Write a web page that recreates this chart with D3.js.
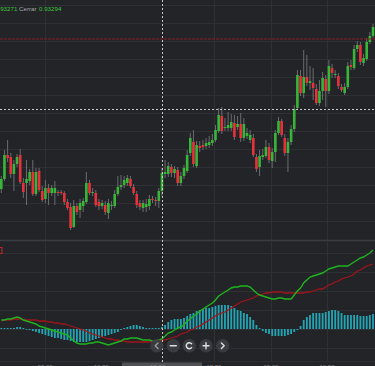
<!DOCTYPE html>
<html><head><meta charset="utf-8">
<script src="https://cdn.jsdelivr.net/npm/d3@7/dist/d3.min.js"></script>
<style>html,body{margin:0;padding:0;background:#232428;overflow:hidden}svg{display:block}</style>
</head><body>
<svg id="c" width="375" height="366"></svg>
<script>
// ---- DATA ----
const open=[0.93278,0.93288,0.93312,0.93310,0.93293,0.93303,0.93312,0.93284,0.93284,0.93286,
0.93295,0.93273,0.93296,0.93276,0.93268,0.93279,0.93274,0.93274,0.93275,0.93275,
0.93274,0.93265,0.93260,0.93240,0.93261,0.93257,0.93261,0.93265,0.93284,0.93274,
0.93274,0.93265,0.93261,0.93262,0.93254,0.93261,0.93261,0.93273,0.93280,0.93282,
0.93284,0.93288,0.93280,0.93273,0.93264,0.93259,0.93260,0.93261,0.93268,0.93267,
0.93266,0.93276,0.93293,0.93293,0.93300,0.93294,0.93297,0.93284,0.93291,0.93296,
0.93314,0.93325,0.93301,0.93321,0.93322,0.93321,0.93322,0.93324,0.93327,0.93336,
0.93351,0.93339,0.93339,0.93339,0.93344,0.93340,0.93343,0.93329,0.93331,0.93327,
0.93329,0.93310,0.93300,0.93310,0.93311,0.93320,0.93306,0.93315,0.93334,0.93346,
0.93329,0.93314,0.93325,0.93338,0.93359,0.93391,0.93374,0.93390,0.93384,0.93384,
0.93378,0.93364,0.93376,0.93388,0.93376,0.93399,0.93392,0.93391,0.93380,0.93374,
0.93380,0.93402,0.93399,0.93418,0.93422,0.93404,0.93408,0.93425,0.93431];
const high=[0.93291,0.93317,0.93327,0.93314,0.93307,0.93313,0.93318,0.93289,0.93307,0.93298,
0.93307,0.93299,0.93299,0.93281,0.93287,0.93283,0.93282,0.93286,0.93277,0.93277,
0.93276,0.93268,0.93264,0.93267,0.93264,0.93268,0.93269,0.93295,0.93287,0.93279,
0.93277,0.93268,0.93267,0.93266,0.93268,0.93266,0.93277,0.93291,0.93292,0.93291,
0.93292,0.93291,0.93283,0.93276,0.93267,0.93267,0.93268,0.93272,0.93271,0.93270,
0.93279,0.93299,0.93307,0.93305,0.93303,0.93301,0.93300,0.93295,0.93302,0.93317,
0.93334,0.93337,0.93326,0.93326,0.93327,0.93329,0.93331,0.93333,0.93342,0.93359,
0.93360,0.93349,0.93355,0.93353,0.93352,0.93351,0.93354,0.93349,0.93339,0.93337,
0.93333,0.93313,0.93317,0.93318,0.93327,0.93324,0.93319,0.93337,0.93350,0.93348,
0.93333,0.93329,0.93342,0.93362,0.93397,0.93397,0.93417,0.93412,0.93401,0.93399,
0.93383,0.93387,0.93395,0.93392,0.93407,0.93403,0.93397,0.93394,0.93383,0.93384,
0.93405,0.93407,0.93422,0.93426,0.93425,0.93413,0.93429,0.93435,0.93443];
const low=[0.93274,0.93286,0.93305,0.93289,0.93276,0.93300,0.93283,0.93269,0.93262,0.93282,
0.93271,0.93271,0.93275,0.93265,0.93264,0.93262,0.93271,0.93262,0.93271,0.93272,
0.93262,0.93257,0.93237,0.93239,0.93252,0.93249,0.93255,0.93263,0.93272,0.93271,
0.93260,0.93257,0.93258,0.93252,0.93248,0.93257,0.93259,0.93271,0.93277,0.93279,
0.93281,0.93279,0.93272,0.93259,0.93257,0.93255,0.93255,0.93257,0.93264,0.93261,
0.93259,0.93271,0.93289,0.93290,0.93290,0.93289,0.93281,0.93281,0.93288,0.93294,
0.93311,0.93300,0.93299,0.93315,0.93317,0.93318,0.93319,0.93321,0.93325,0.93334,
0.93333,0.93336,0.93336,0.93336,0.93327,0.93337,0.93325,0.93326,0.93328,0.93324,
0.93310,0.93295,0.93291,0.93307,0.93309,0.93304,0.93299,0.93305,0.93332,0.93330,
0.93311,0.93295,0.93322,0.93335,0.93357,0.93371,0.93369,0.93381,0.93377,0.93367,
0.93362,0.93361,0.93367,0.93360,0.93373,0.93389,0.93389,0.93378,0.93375,0.93372,
0.93378,0.93397,0.93397,0.93415,0.93402,0.93401,0.93406,0.93423,0.93429];
const close=[0.93288,0.93312,0.93309,0.93293,0.93303,0.93310,0.93285,0.93275,0.93288,0.93295,
0.93273,0.93295,0.93277,0.93267,0.93279,0.93274,0.93279,0.93279,0.93274,0.93274,
0.93265,0.93259,0.93239,0.93261,0.93255,0.93264,0.93266,0.93284,0.93274,0.93275,
0.93262,0.93261,0.93264,0.93255,0.93264,0.93262,0.93273,0.93280,0.93282,0.93287,
0.93289,0.93281,0.93274,0.93262,0.93260,0.93264,0.93263,0.93268,0.93267,0.93266,
0.93276,0.93294,0.93295,0.93301,0.93294,0.93298,0.93284,0.93291,0.93299,0.93312,
0.93329,0.93303,0.93322,0.93319,0.93320,0.93324,0.93325,0.93327,0.93337,0.93352,
0.93336,0.93340,0.93342,0.93345,0.93330,0.93343,0.93329,0.93343,0.93334,0.93332,
0.93312,0.93298,0.93311,0.93312,0.93320,0.93307,0.93315,0.93334,0.93346,0.93332,
0.93314,0.93325,0.93338,0.93358,0.93392,0.93374,0.93390,0.93384,0.93386,0.93379,
0.93364,0.93376,0.93389,0.93376,0.93401,0.93394,0.93393,0.93381,0.93377,0.93380,
0.93401,0.93400,0.93418,0.93422,0.93405,0.93409,0.93425,0.93431,0.93440];
// MACD pane, in points (1 point = 0.00001)
const macd=[9,9,10,10,11,12,11,9,8,7, 6,5,3,2,1,0,-1,-2,-3,-4,
-5,-6,-9,-12,-14,-15,-15,-15,-14,-14, -13,-13,-14,-15,-16,-15,-14,-13,-12,-10,
-10,-9,-9,-9,-10,-11,-11,-11,-12,-12, -11,-10,-7,-4,-3,-1,1,2,4,8,
10,13,15,18,20,22,24,26,29,33, 35,37,39,41,42,42,43,43,43,42,
39,36,34,33,32,31,30,30,31,31, 30,30,30,34,38,41,46,49,52,53,
54,55,56,58,60,61,62,63,63,63, 63,65,67,69,71,72,74,76,79];
const signal=[8,9,9,9,10,10,10,9,9,9, 9,9,8,8,8,7,7,6,6,5,
5,4,3,2,1,0,-1,-2,-4,-5, -6,-7,-8,-9,-10,-10,-11,-11,-12,-12,
-13,-13,-13,-13,-13,-13,-13,-13,-12,-12, -12,-11,-11,-10,-9,-8,-7,-5,-4,-3,
-1,0,2,3,5,7,9,11,13,15, 16,17,19,21,23,25,27,28,29,30,
31,33,34,35,36,36,37,37,37,37, 36,36,36,36,36,36,36,37,37,38,
39,40,40,42,44,45,47,48,50,51, 52,53,55,58,59,61,63,64,65];
const hist=[1,1,1,1,1,2,2,1,0,-1, -2,-3,-4,-5,-6,-7,-8,-9,-9,-10,
-11,-11,-12,-13,-13,-13,-13,-13,-12,-11, -10,-9,-8,-7,-6,-5,-4,-3,-1,1,
2,3,4,4,3,2,1,1,1,1, 1,2,4,7,9,10,10,10,11,13,
15,16,18,19,20,21,21,22,23,24, 24,24,24,23,21,19,18,16,15,12,
9,4,1,-2,-4,-5,-7,-7,-7,-7, -7,-6,-5,-3,-1,3,9,12,14,16,
16,16,16,17,18,19,19,18,16,14, 14,14,14,14,13,13,13,14,15];
const priceGrid=[0.93462,0.93444,0.93426,0.93408,0.93390,0.93372,0.93354,0.93336,0.93318,0.93300,0.93282,0.93264,0.93246];
const macdGrid=[76,57,38,19,0,-19];
const timeTicks=[13.9,31.7,49.6,67.5,85.6,103.4];
const timeLabels=["09:00","10:30","12:00","13:30","15:00","16:30"];
const timeGrid=[13.9,67.5,85.6,103.4];
const priceLine=0.93428;
const crossIdx=51, crossPrice=0.93358;
const headerLabels=["0.93271","Cerrar","0.93294"];

// ---- CHART ----
const W=375,H=366;
const svg=d3.select("#c");
const x=d3.scaleLinear().domain([0,open.length-1]).range([1.3,373]);
const y=d3.scaleLinear().domain([0.93227,0.93467]).range([240,0]);
const ym=d3.scaleLinear().domain([-32,88]).range([361,241]);
const GREEN="#39b639", RED="#e8323b", WICK="#737477", GRID="#2f3034";

svg.append("rect").attr("width",W).attr("height",H).attr("fill","#232428");

// grids
const g=svg.append("g");
g.selectAll(".pg").data(priceGrid).enter().append("line")
 .attr("x1",0).attr("x2",W).attr("y1",d=>Math.round(y(d))+0.5).attr("y2",d=>Math.round(y(d))+0.5)
 .attr("stroke",GRID);
g.selectAll(".mg").data(macdGrid).enter().append("line")
 .attr("x1",0).attr("x2",W).attr("y1",d=>Math.round(ym(d))+0.5).attr("y2",d=>Math.round(ym(d))+0.5)
 .attr("stroke",GRID);
g.selectAll(".tg").data(timeGrid).enter().append("line")
 .attr("y1",0).attr("y2",361).attr("x1",d=>Math.round(x(d))+0.5).attr("x2",d=>Math.round(x(d))+0.5)
 .attr("stroke",GRID);
// pane separator
svg.append("line").attr("x1",0).attr("x2",W).attr("y1",240.5).attr("y2",240.5).attr("stroke","#3b3c41").attr("stroke-width",1.5);
svg.append("line").attr("x1",0).attr("x2",W).attr("y1",361.5).attr("y2",361.5).attr("stroke","#2c2d31");

// candles
const data=open.map((o,i)=>({i,o,h:high[i],l:low[i],c:close[i]}));
const cg=svg.append("g");
cg.selectAll(".w").data(data).enter().append("line")
 .attr("x1",d=>x(d.i)).attr("x2",d=>x(d.i)).attr("y1",d=>y(d.h)).attr("y2",d=>y(d.l))
 .attr("stroke",WICK).attr("stroke-width",0.9);
cg.selectAll(".b").data(data).enter().append("rect")
 .attr("x",d=>x(d.i)-1.3).attr("width",2.6)
 .attr("y",d=>y(Math.max(d.o,d.c)))
 .attr("height",d=>Math.max(1,Math.abs(y(d.o)-y(d.c))))
 .attr("fill",d=>d.c>=d.o?GREEN:RED);

// price line
svg.append("line").attr("x1",0).attr("x2",W).attr("y1",y(priceLine)).attr("y2",y(priceLine))
 .attr("stroke","#8e1b20").attr("stroke-width",1).attr("stroke-dasharray","3,1");

// MACD histogram
svg.append("g").selectAll("rect").data(hist).enter().append("rect")
 .attr("x",(d,i)=>x(i)-0.9).attr("width",1.8)
 .attr("y",d=>Math.min(ym(0),ym(d))).attr("height",d=>Math.max(0.8,Math.abs(ym(d)-ym(0))))
 .attr("fill","#22a6b6");
const line=d3.line().x((d,i)=>x(i)).y(d=>ym(d));
svg.append("path").datum(signal).attr("d",line).attr("fill","none").attr("stroke","#a3141a").attr("stroke-width",1.3);
svg.append("path").datum(macd).attr("d",line).attr("fill","none").attr("stroke","#1fb41f").attr("stroke-width",1.4);

// indicator legend box (cut off)
svg.append("rect").attr("x",-6).attr("y",247.5).attr("width",8).attr("height",6).attr("fill","none").attr("stroke","#c0282d");

// crosshair
const cx=Math.round(x(crossIdx))+0.5;
svg.append("line").attr("x1",cx).attr("x2",cx).attr("y1",0).attr("y2",H)
 .attr("stroke","#c9c9c9").attr("stroke-dasharray","2,2");
svg.append("line").attr("x1",0).attr("x2",W).attr("y1",Math.round(y(crossPrice))+0.5).attr("y2",Math.round(y(crossPrice))+0.5)
 .attr("stroke","#c9c9c9").attr("stroke-dasharray","2,2");

// header
const hx=[-5,19,39], hc=["#3cc43c","#a8a8a8","#3cc43c"];
svg.selectAll(".hd").data(headerLabels).enter().append("text")
 .attr("x",(d,i)=>hx[i]).attr("y",11).attr("fill",(d,i)=>hc[i])
 .attr("font-family","Liberation Sans, Arial, sans-serif").attr("font-size",6.2).text(d=>d);

// scrollbar
svg.append("rect").attr("x",122).attr("y",362.5).attr("width",80).attr("height",4).attr("fill","#505155");

// time labels (cut off at the bottom, as in the reference)
svg.selectAll(".tl").data(timeTicks).enter().append("text")
 .attr("x",d=>x(d)).attr("y",368.5).attr("text-anchor","middle").attr("fill","#8a8a8a")
 .attr("font-family","Liberation Sans, Arial, sans-serif").attr("font-size",6)
 .text((d,i)=>timeLabels[i]);

// nav buttons
const navX=[156.7,173.3,189.3,206,222.7], ny=345.7;
const nav=svg.append("g");
navX.forEach((bx,k)=>{
  nav.append("circle").attr("cx",bx).attr("cy",ny).attr("r",6.7).attr("fill","#3d3e42").attr("fill-opacity",0.92);
  const col=k===0?"#9a9a9a":"#e0e0e0";
  const p=nav.append("path").attr("fill","none").attr("stroke",col).attr("stroke-width",1.4).attr("stroke-linecap","round").attr("stroke-linejoin","round");
  if(k===0) p.attr("d",`M${bx+1.3},${ny-2.8}L${bx-1.5},${ny}L${bx+1.3},${ny+2.8}`);
  if(k===1) p.attr("d",`M${bx-3},${ny}L${bx+3},${ny}`);
  if(k===2){
    const r=3;
    p.attr("d",`M${bx+r*Math.cos(-0.7)},${ny+r*Math.sin(-0.7)} A${r},${r} 0 1 0 ${bx+r*Math.cos(0.7)},${ny+r*Math.sin(0.7)}`).attr("stroke-width",1.5);
  }
  if(k===3) p.attr("d",`M${bx-3},${ny}L${bx+3},${ny}M${bx},${ny-3}L${bx},${ny+3}`);
  if(k===4) p.attr("d",`M${bx-1.3},${ny-2.8}L${bx+1.5},${ny}L${bx-1.3},${ny+2.8}`);
});
</script>
</body></html>
